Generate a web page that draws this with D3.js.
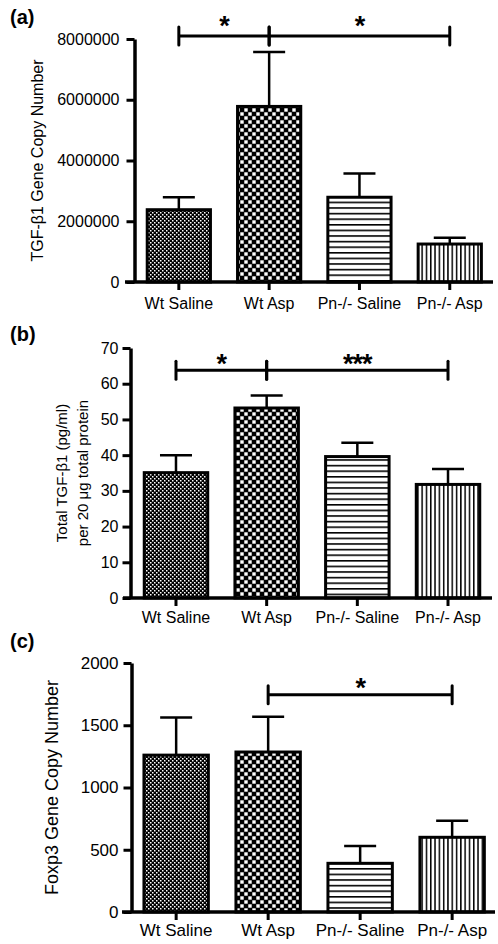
<!DOCTYPE html>
<html><head><meta charset="utf-8">
<script src="https://cdn.jsdelivr.net/npm/d3@7/dist/d3.min.js"></script>
<style>body{margin:0;background:#fff}svg{display:block;font-family:"Liberation Sans",Arial,sans-serif}</style>
</head><body><svg id="c" width="498" height="944"></svg>
<script>
// ---- data ----
const categories = ["Wt Saline", "Wt Asp", "Pn-/- Saline", "Pn-/- Asp"];
const patternIds = ["fineChecker", "checker", "hlines", "vlines"];

const tgfGeneMean = [2380000, 5780000, 2790000, 1250000];
const tgfGeneSem  = [410000, 1790000, 780000, 210000];
const tgfGeneTicks = [0, 2000000, 4000000, 6000000, 8000000];
const tgfGeneSig = [{from: 0, to: 1, label: "*"}, {from: 1, to: 3, label: "*"}];
const tgfGeneSigLevel = 8100000;

const tgfProtMean = [35.1, 53.2, 39.6, 31.8];
const tgfProtSem  = [4.9, 3.5, 3.9, 4.3];
const tgfProtTicks = [0, 10, 20, 30, 40, 50, 60, 70];
const tgfProtSig = [{from: 0, to: 1, label: "*"}, {from: 1, to: 3, label: "***"}];
const tgfProtSigLevel = 63.8;

const foxMean = [1260, 1285, 391, 600];
const foxSem  = [303, 283, 139, 133];
const foxTicks = [0, 500, 1000, 1500, 2000];
const foxSig = [{from: 1, to: 3, label: "*"}];
const foxSigLevel = 1745;

// ---- layout ----
const panels = [
  {label: "(a)", labelY: 24, titles: ["TGF-\u03b21 Gene Copy Number"], titleX: [37], titleSize: 16,
   mean: tgfGeneMean, sem: tgfGeneSem, ticks: tgfGeneTicks, domain: [0, 8000000], yRange: [282, 39],
   xRange: [140, 488.6], axisX: 134.5, lineExt: [125, 493], tickPad: 7, fs: 16, xlab: 27,
   sig: tgfGeneSig, sigLevel: tgfGeneSigLevel, starDy: -1, fmt: d3.format("d")},
  {label: "(b)", labelY: 341, titles: ["Total TGF-\u03b21 (pg/ml)", "per 20 \u03bcg total protein"], titleX: [62, 83], titleSize: 15,
   mean: tgfProtMean, sem: tgfProtSem, ticks: tgfProtTicks, domain: [0, 70], yRange: [598, 348],
   xRange: [137, 487], axisX: 130.5, lineExt: [123, 492], tickPad: 4, fs: 16, xlab: 25,
   sig: tgfProtSig, sigLevel: tgfProtSigLevel, starDy: 2.5, fmt: d3.format("d")},
  {label: "(c)", labelY: 648, titles: ["Foxp3 Gene Copy Number"], titleX: [52], titleSize: 18,
   mean: foxMean, sem: foxSem, ticks: foxTicks, domain: [0, 2000], yRange: [912, 663],
   xRange: [136.6, 491.7], axisX: 131.5, lineExt: [122, 495], tickPad: 5, fs: 17, xlab: 24,
   sig: foxSig, sigLevel: foxSigLevel, starDy: 2.5, fmt: d3.format("d")}
];

const svg = d3.select("#c");
svg.append("rect").attr("width", 498).attr("height", 944).attr("fill", "#fff");

// ---- patterns ----
const defs = svg.append("defs");
let p = defs.append("pattern").attr("id", "fineChecker").attr("patternUnits", "userSpaceOnUse").attr("width", 4).attr("height", 4);
p.append("rect").attr("width", 4).attr("height", 4).attr("fill", "#000");
p.append("rect").attr("x", 0).attr("y", 0).attr("width", 1.5).attr("height", 1.5).attr("fill", "#fff");
p.append("rect").attr("x", 2).attr("y", 2).attr("width", 1.5).attr("height", 1.5).attr("fill", "#fff");

p = defs.append("pattern").attr("id", "checker").attr("patternUnits", "userSpaceOnUse").attr("width", 8).attr("height", 8);
p.append("rect").attr("width", 8).attr("height", 8).attr("fill", "#000");
p.append("rect").attr("x", 0.3).attr("y", 0.3).attr("width", 3.4).attr("height", 3.4).attr("fill", "#fff");
p.append("rect").attr("x", 4.3).attr("y", 4.3).attr("width", 3.4).attr("height", 3.4).attr("fill", "#fff");

p = defs.append("pattern").attr("id", "hlines").attr("patternUnits", "userSpaceOnUse").attr("width", 8).attr("height", 5.6);
p.append("rect").attr("width", 8).attr("height", 5.6).attr("fill", "#fff");
p.append("rect").attr("x", 0).attr("y", 0).attr("width", 8).attr("height", 1.6).attr("fill", "#000");

p = defs.append("pattern").attr("id", "vlines").attr("patternUnits", "userSpaceOnUse").attr("width", 4.3).attr("height", 8);
p.append("rect").attr("width", 4.3).attr("height", 8).attr("fill", "#fff");
p.append("rect").attr("x", 0).attr("y", 0).attr("width", 1.5).attr("height", 8).attr("fill", "#000");

// ---- panels ----
panels.forEach(cfg => {
  const g = svg.append("g");
  const x = d3.scaleBand().domain(categories).range(cfg.xRange).paddingInner(0.3).paddingOuter(0.08);
  const y = d3.scaleLinear().domain(cfg.domain).range(cfg.yRange);
  const y0 = y(0);
  const cx = i => x(categories[i]) + x.bandwidth() / 2;

  // panel label
  g.append("text").attr("x", 10).attr("y", cfg.labelY).attr("font-size", 20).attr("font-weight", "bold").text(cfg.label);

  // y title
  cfg.titles.forEach((t, k) => {
    const ym = (cfg.yRange[0] + cfg.yRange[1]) / 2;
    g.append("text").attr("transform", `translate(${cfg.titleX[k]},${ym}) rotate(-90)`)
      .attr("text-anchor", "middle").attr("dy", "0.35em").attr("font-size", cfg.titleSize).text(t);
  });

  // bars
  g.selectAll("rect.bar").data(cfg.mean).enter().append("rect").attr("class", "bar")
    .attr("x", (d, i) => x(categories[i])).attr("y", d => y(d))
    .attr("width", x.bandwidth()).attr("height", d => y0 - y(d))
    .attr("fill", (d, i) => `url(#${patternIds[i]})`).attr("stroke", "#000").attr("stroke-width", 3);

  // error bars
  cfg.mean.forEach((m, i) => {
    const top = y(m + cfg.sem[i]);
    g.append("line").attr("x1", cx(i)).attr("x2", cx(i)).attr("y1", y(m)).attr("y2", top).attr("stroke", "#000").attr("stroke-width", 2.5);
    g.append("line").attr("x1", cx(i) - 16).attr("x2", cx(i) + 16).attr("y1", top).attr("y2", top).attr("stroke", "#000").attr("stroke-width", 2.5);
  });

  // y axis
  const ya = g.append("g").attr("transform", `translate(${cfg.axisX},0)`)
    .call(d3.axisLeft(y).tickValues(cfg.ticks).tickFormat(cfg.fmt).tickSize(8).tickSizeOuter(0).tickPadding(cfg.tickPad));
  ya.select(".domain").attr("stroke-width", 3.5);
  ya.selectAll(".tick line").attr("stroke-width", 3);
  ya.selectAll(".tick text").attr("font-size", cfg.fs).attr("fill", "#000").attr("font-family", "Liberation Sans, Arial, sans-serif");

  // x axis
  g.append("line").attr("x1", cfg.lineExt[0]).attr("x2", cfg.lineExt[1]).attr("y1", y0).attr("y2", y0).attr("stroke", "#000").attr("stroke-width", 3.5);
  const xa = g.append("g").attr("transform", `translate(0,${y0})`)
    .call(d3.axisBottom(x).tickSize(8).tickSizeOuter(0));
  xa.select(".domain").remove();
  xa.selectAll(".tick line").attr("stroke-width", 3);
  xa.selectAll(".tick text").attr("font-size", cfg.fs).attr("fill", "#000").attr("y", cfg.xlab).attr("dy", 0)
    .attr("font-family", "Liberation Sans, Arial, sans-serif");

  // significance
  const sy = y(cfg.sigLevel);
  cfg.sig.forEach(s => {
    const a = cx(s.from), b = cx(s.to);
    g.append("line").attr("x1", a).attr("x2", b).attr("y1", sy).attr("y2", sy).attr("stroke", "#000").attr("stroke-width", 3);
    [a, b].forEach(xx => g.append("line").attr("x1", xx).attr("x2", xx).attr("y1", sy - 9).attr("y2", sy + 9)
      .attr("stroke", "#000").attr("stroke-width", 3).attr("stroke-linecap", "round"));
    g.append("text").attr("x", (a + b) / 2).attr("y", sy + cfg.starDy).attr("text-anchor", "middle")
      .attr("font-size", 27).attr("font-weight", "bold").attr("letter-spacing", -1).text(s.label);
  });
});
</script></body></html>
